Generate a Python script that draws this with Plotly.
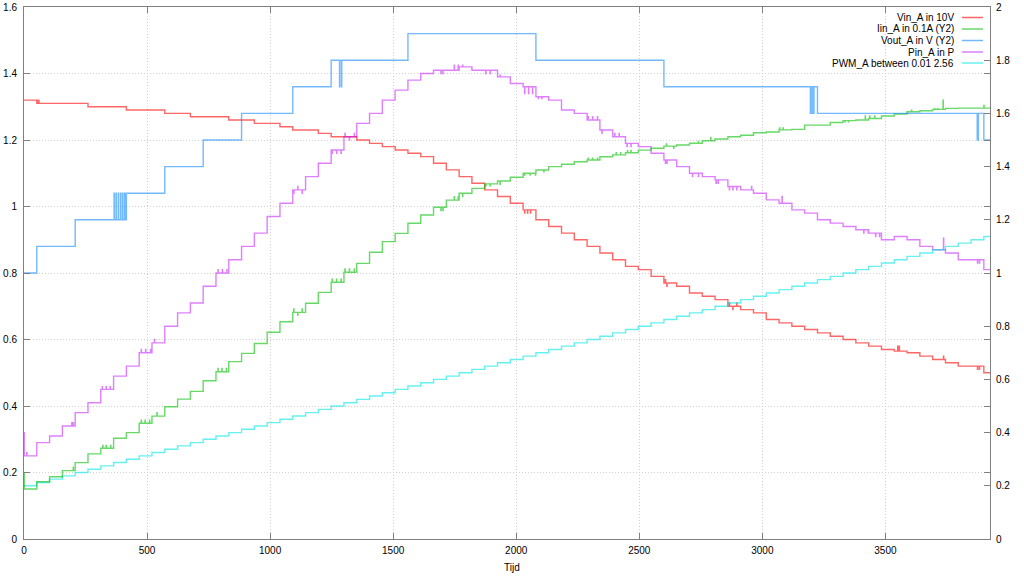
import plotly.graph_objects as go

# ---------------- data ----------------
step_t = [0, 52, 104, 156, 208, 260, 312, 364, 416, 468, 520, 572, 624, 676, 728, 780,
          832, 884, 936, 988, 1040, 1092, 1144, 1196, 1248, 1300, 1352, 1404, 1456, 1508,
          1560, 1612, 1664, 1716, 1768, 1820, 1872, 1924, 1976, 2028, 2080, 2132, 2184,
          2236, 2288, 2340, 2392, 2444, 2496, 2548, 2600, 2652, 2704, 2756, 2808, 2860,
          2912, 2964, 3016, 3068, 3120, 3172, 3224, 3276, 3328, 3380, 3432, 3484, 3536,
          3588, 3640, 3692, 3744, 3796, 3848, 3900]
t_end = 3925

vin = [1.32, 1.31, 1.31, 1.31, 1.31, 1.30, 1.30, 1.30, 1.29, 1.29, 1.29, 1.28, 1.28,
       1.27, 1.27, 1.27, 1.26, 1.26, 1.25, 1.25, 1.24, 1.23, 1.23, 1.22, 1.21, 1.21,
       1.20, 1.19, 1.18, 1.17, 1.16, 1.15, 1.13, 1.11, 1.09, 1.07, 1.05, 1.03, 1.01,
       0.99, 0.96, 0.94, 0.92, 0.90, 0.88, 0.86, 0.84, 0.82, 0.81, 0.79, 0.77, 0.76,
       0.74, 0.73, 0.72, 0.70, 0.69, 0.68, 0.66, 0.65, 0.64, 0.63, 0.62, 0.61, 0.60,
       0.59, 0.58, 0.57, 0.565, 0.56, 0.55, 0.54, 0.53, 0.52, 0.52, 0.50]

iin = [0.188, 0.215, 0.234, 0.257, 0.287, 0.320, 0.341, 0.379, 0.400, 0.435, 0.462,
       0.497, 0.526, 0.555, 0.595, 0.629, 0.667, 0.698, 0.735, 0.777, 0.817, 0.852,
       0.886, 0.927, 0.965, 1.003, 1.036, 1.078, 1.118, 1.149, 1.187, 1.218, 1.247,
       1.274, 1.300, 1.318, 1.335, 1.346, 1.360, 1.375, 1.387, 1.400, 1.409, 1.418,
       1.425, 1.437, 1.444, 1.452, 1.462, 1.469, 1.477, 1.481, 1.488, 1.497, 1.504,
       1.512, 1.518, 1.527, 1.530, 1.538, 1.540, 1.556, 1.556, 1.566, 1.573, 1.575,
       1.581, 1.590, 1.598, 1.606, 1.610, 1.615, 1.619, 1.620, 1.620, 1.620]

vout = [1.0, 1.1, 1.1, 1.1, 1.2, 1.2, 1.2, 1.2, 1.3, 1.3, 1.3, 1.4, 1.4, 1.4, 1.5, 1.5,
        1.5, 1.6, 1.6, 1.6, 1.6, 1.7, 1.7, 1.7, 1.8, 1.8, 1.8, 1.8, 1.8, 1.8, 1.9, 1.9,
        1.9, 1.9, 1.9, 1.9, 1.9, 1.9, 1.9, 1.9, 1.8, 1.8, 1.8, 1.8, 1.8, 1.8, 1.8, 1.8,
        1.8, 1.8, 1.7, 1.7, 1.7, 1.7, 1.7, 1.7, 1.7, 1.7, 1.7, 1.7, 1.7, 1.7, 1.6, 1.6,
        1.6, 1.6, 1.6, 1.6, 1.6, 1.6, 1.6, 1.6, 1.6, 1.6, 1.6, 1.5]

pin = [0.25, 0.29, 0.31, 0.34, 0.38, 0.41, 0.45, 0.49, 0.52, 0.56, 0.59, 0.64, 0.68,
       0.71, 0.76, 0.80, 0.84, 0.88, 0.92, 0.97, 1.01, 1.05, 1.09, 1.13, 1.17, 1.21,
       1.25, 1.28, 1.32, 1.35, 1.38, 1.40, 1.41, 1.41, 1.42, 1.41, 1.41, 1.39, 1.37,
       1.36, 1.33, 1.32, 1.29, 1.28, 1.26, 1.23, 1.21, 1.19, 1.18, 1.16, 1.14, 1.12,
       1.10, 1.09, 1.08, 1.06, 1.05, 1.04, 1.02, 1.01, 0.99, 0.98, 0.96, 0.95, 0.94,
       0.93, 0.92, 0.90, 0.91, 0.90, 0.88, 0.87, 0.86, 0.84, 0.84, 0.81]

pwm = [0.16, 0.17, 0.18, 0.19, 0.20, 0.21, 0.22, 0.23, 0.24, 0.25, 0.26, 0.27, 0.28,
       0.29, 0.30, 0.31, 0.32, 0.33, 0.34, 0.35, 0.36, 0.37, 0.38, 0.39, 0.40, 0.41,
       0.42, 0.43, 0.44, 0.45, 0.46, 0.47, 0.48, 0.49, 0.50, 0.51, 0.52, 0.53, 0.54,
       0.55, 0.56, 0.57, 0.58, 0.59, 0.60, 0.61, 0.62, 0.63, 0.64, 0.65, 0.66, 0.67,
       0.68, 0.69, 0.70, 0.71, 0.72, 0.73, 0.74, 0.75, 0.76, 0.77, 0.78, 0.79, 0.80,
       0.81, 0.82, 0.83, 0.84, 0.85, 0.86, 0.87, 0.88, 0.89, 0.90, 0.91]

# short measurement glitches: (time, value), each lasting about one time unit
vin_glitch_t = [54, 57, 60, 2034, 2046, 2058, 2606, 2612, 2866, 2880, 2896, 3550, 3556, 3736, 3874, 3882]
vin_glitch_v = [1.32, 1.32, 1.32, 0.98, 0.98, 0.98, 0.78, 0.76, 0.71, 0.69, 0.71, 0.58, 0.58, 0.55, 0.51, 0.51]

iin_glitch_t = [0, 200, 320, 334, 352, 476, 492, 510, 540, 788, 804, 822,
                1096, 1112, 1130, 1252, 1270, 1288, 1304, 1322, 1342, 1694, 1702,
                1748, 1764, 1782, 1876, 1894, 1934, 2034, 2056, 2078, 2112,
                2292, 2310, 2330, 2406, 2424, 2452, 2466, 2640, 2610, 2740, 2790,
                3070, 3084, 3336, 3350, 3418, 3436, 3456, 3590, 3606, 3700, 3712,
                3734, 3900]
iin_glitch_v = [0.247, 0.27, 0.352, 0.352, 0.352, 0.447, 0.447, 0.447, 0.475,
                0.641, 0.641, 0.641, 0.865, 0.842, 0.865, 0.977, 0.977, 0.977,
                1.015, 1.015, 1.015, 1.235, 1.235, 1.287, 1.287, 1.287, 1.328,
                1.328, 1.333, 1.368, 1.368, 1.368, 1.38, 1.432, 1.432, 1.432,
                1.452, 1.452, 1.46, 1.46, 1.47, 1.485, 1.495, 1.51, 1.545,
                1.545, 1.568, 1.568, 1.59, 1.59, 1.59, 1.605, 1.612, 1.618,
                1.618, 1.65, 1.63]

vout_glitch_t = [366, 374, 383, 392, 400, 408, 414, 1282, 1290,
                 3195, 3202, 3209, 3873, 3877]
vout_glitch_v = [1.3, 1.3, 1.3, 1.3, 1.3, 1.3, 1.3, 1.7, 1.7,
                 1.6, 1.6, 1.6, 1.5, 1.5]

pin_glitch_t = [0, 11, 194, 200, 318, 334, 350, 476, 494, 514, 530, 788, 806,
                824, 1096, 1112, 1130, 1252, 1270, 1288, 1304, 1322, 1342,
                1694, 1702, 1748, 1764, 1782, 1876, 1894, 1934, 2034, 2050,
                2066, 2090, 2104, 2292, 2310, 2330, 2348, 2400, 2418,
                2450, 2466, 2606, 2612, 2716, 2740, 2812, 2820, 2866, 2880, 2896, 2956,
                3070, 3080, 3092, 3334, 3346, 3412, 3430, 3460, 3476, 3736, 3874, 3882]
pin_glitch_v = [0.32, 0.26, 0.35, 0.35, 0.458, 0.458, 0.458, 0.57, 0.57, 0.57,
                0.60, 0.81, 0.81, 0.81, 1.04, 1.06, 1.04, 1.16, 1.16, 1.16,
                1.22, 1.20, 1.22, 1.40, 1.40, 1.425, 1.425, 1.425, 1.40,
                1.40, 1.395, 1.34, 1.34, 1.34, 1.325, 1.325, 1.27, 1.27, 1.27,
                1.22, 1.22, 1.22, 1.18, 1.18, 1.13, 1.13, 1.09, 1.09, 1.07, 1.07,
                1.05, 1.05, 1.05, 1.06, 1.01, 1.03, 1.01, 0.94, 0.94, 0.92, 0.92, 0.91,
                0.91, 0.905, 0.83, 0.83]

# ---------------- helpers ----------------
def base_at(t, vals):
    idx = 0
    for i, st in enumerate(step_t):
        if st <= t:
            idx = i
    return vals[idx]


def build(vals, g_t=(), g_v=(), dt=1.0):
    pts = [(t, v, 0) for t, v in zip(step_t, vals)]
    for t, v in zip(g_t, g_v):
        pts.append((t, v, 1))
        pts.append((t + dt, base_at(t + dt, vals), 2))
    pts.sort(key=lambda p: (p[0], p[2]))
    xs = [p[0] for p in pts] + [t_end]
    ys = [p[1] for p in pts] + [vals[-1]]
    return xs, ys


series = [
    ("Vin_A in 10V", vin, vin_glitch_t, vin_glitch_v, "y", "rgba(255,0,0,0.6)"),
    ("Iin_A in 0.1A (Y2)", iin, iin_glitch_t, iin_glitch_v, "y2", "rgba(0,192,0,0.6)"),
    ("Vout_A in V (Y2)", vout, vout_glitch_t, vout_glitch_v, "y2", "rgba(0,128,255,0.55)"),
    ("Pin_A in P", pin, pin_glitch_t, pin_glitch_v, "y", "rgba(192,0,255,0.5)"),
    ("PWM_A between 0.01 2.56", pwm, [], [], "y", "rgba(0,230,230,0.6)"),
]

FONT = "Liberation Sans, Arial, sans-serif"
fig = go.Figure()
for name, vals, gt, gv, ax, col in series:
    xs, ys = build(vals, gt, gv)
    fig.add_trace(go.Scatter(x=xs, y=ys, mode="lines", name=name, yaxis=ax,
                             line=dict(color=col, width=1.4, shape="hv"),
                             showlegend=False, hoverinfo="skip"))

# plot-area geometry in pixels (for the hand-made legend and x title)
L, T, W, H = 24, 7, 966, 532

# manual gnuplot-style legend (text right-aligned, sample to the right)
row_px = [17.5, 29, 40.5, 52, 63]
for (name, vals, gt, gv, ax, col), py in zip(series, row_px):
    yp = (T + H - py) / H
    fig.add_annotation(x=(956 - L) / W, y=yp, xref="paper", yref="paper", text=name,
                       showarrow=False, xanchor="right", yanchor="middle",
                       font=dict(family=FONT, size=10, color="#000000"))
    fig.add_shape(type="line", xref="paper", yref="paper",
                  x0=(962 - L) / W, x1=(983 - L) / W, y0=yp, y1=yp,
                  line=dict(color=col, width=1.5))

fig.add_annotation(x=(512 - L) / W, y=(T + H - 567) / H, xref="paper", yref="paper",
                   text="Tijd", showarrow=False, xanchor="center", yanchor="middle",
                   font=dict(family=FONT, size=10, color="#000000"))

axis_common = dict(ticks="inside", ticklen=6, tickcolor="#808080", showline=True,
                   linecolor="#808080", linewidth=1, zeroline=False, automargin=False,
                   tickfont=dict(family=FONT, size=10, color="#000000"))

fig.update_layout(
    width=1024, height=576,
    margin=dict(l=L, r=1024 - L - W, t=T, b=576 - T - H, autoexpand=False),
    paper_bgcolor="white", plot_bgcolor="white",
    font=dict(family=FONT, size=10, color="#000000"),
    xaxis=dict(range=[0, t_end], tickvals=[0, 500, 1000, 1500, 2000, 2500, 3000, 3500],
               mirror="ticks", showgrid=True, gridcolor="#d0d0d0", griddash="1px,2px",
               gridwidth=1, ticklabelstandoff=2, **axis_common),
    yaxis=dict(range=[0, 1.6], dtick=0.2, tick0=0, mirror="ticks", showgrid=True,
               gridcolor="#d0d0d0", griddash="1px,2px", gridwidth=1, ticklabelstandoff=4,
               **axis_common),
    yaxis2=dict(range=[0, 2], dtick=0.2, tick0=0, overlaying="y", side="right",
                showgrid=False, ticklabelstandoff=3, **axis_common),
)

fig.write_html("out.html", config={"displayModeBar": False, "staticPlot": True})

# remove the browser's default 8px page margin so the figure fills the window exactly
with open("out.html", "r", encoding="utf-8") as f:
    html = f.read()
html = html.replace("<head>", "<head><style>html,body{margin:0;padding:0;overflow:hidden;}</style>", 1)
with open("out.html", "w", encoding="utf-8") as f:
    f.write(html)
